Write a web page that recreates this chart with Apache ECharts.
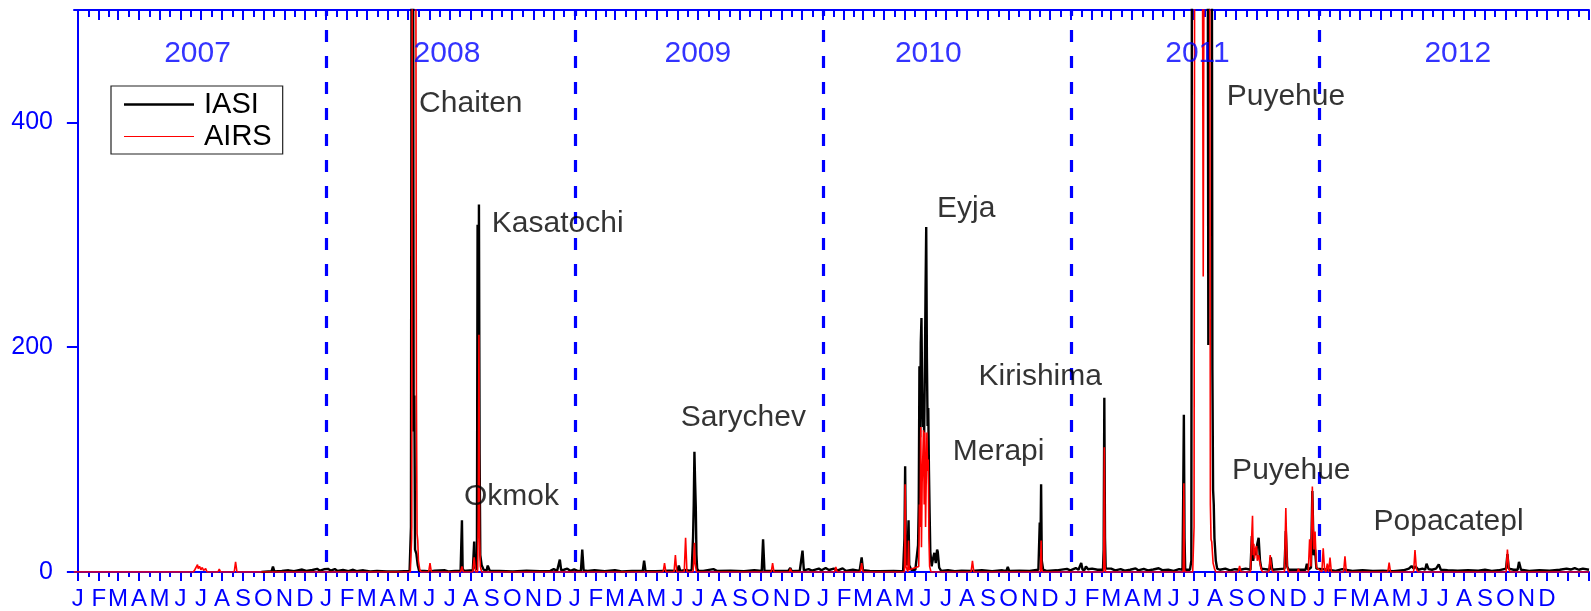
<!DOCTYPE html>
<html>
<head>
<meta charset="utf-8">
<script src="https://cdn.jsdelivr.net/npm/echarts@6/dist/echarts.min.js"></script>
<style>
	* { margin: 0; padding: 0; }
	#chart { width: 1591px; height: 611px; background: #fff; }
</style>
</head>
<body>
<div id="chart"></div>
<script>
	// x = days counted from 1 Jan 2007, y = SO2 amount
	var monthLetters = ['J', 'F', 'M', 'A', 'M', 'J', 'J', 'A', 'S', 'O', 'N', 'D'];
	var years = [2007, 2008, 2009, 2010, 2011, 2012];
	var yLabels = [0, 200, 400];

	// IASI: eruption peaks
	var iasiPeaks = [
		[270, 0],
		[488, 0.8], [490, 40], [491, 650], [492, 330], [493, 650], [494, 125], [495, 157], [496, 20], [497, 18], [498, 16], [500, 6], [502, 1],
		[563, 1], [565, 46], [566, 3], [568, 1],
		[581, 1.5], [583, 27], [584, 4],
		[587, 2], [588, 309], [589, 40], [590, 327], [591, 105], [592, 15], [594, 6], [597, 2],
		[903, 2], [905, 31], [906, 60], [907, 107], [908, 80], [909, 58], [910, 15], [911, 3], [913, 1],
		[1214, 1], [1216, 30], [1217, 94], [1218, 15], [1220, 6], [1222, 46], [1223, 6], [1226, 2], [1232, 2],
		[1236, 24], [1237, 60], [1238, 183], [1239, 120], [1240, 204], [1241, 226], [1242, 160], [1243, 129], [1244, 140], [1245, 124],
		[1246, 180], [1247, 250], [1248, 307], [1249, 190], [1250, 130], [1251, 146], [1252, 90], [1253, 52], [1254, 18], [1256, 5],
		[1258, 12], [1260, 17], [1262, 8], [1264, 20], [1265, 18], [1267, 4], [1270, 1],
		[1413, 2], [1415, 44], [1416, 20], [1417, 78], [1418, 10], [1420, 2],
		[1508, 2], [1509, 20], [1510, 155], [1511, 30], [1512, 3],
		[1625, 2], [1626, 66], [1627, 140], [1628, 30], [1629, 2],
		[1636, 2], [1638, 10], [1639, 650], [1662, 650], [1663, 202], [1664, 650], [1668, 650], [1669, 180], [1670, 73], [1671, 60], [1672, 30], [1674, 10], [1676, 3],
		[1725, 2], [1727, 32], [1729, 10], [1731, 20], [1733, 15], [1735, 25], [1737, 30.5], [1739, 10], [1741, 3],
		[1753, 2], [1755, 13], [1757, 2], [1775, 3], [1777, 36.5], [1779, 5], [1781, 2],
		[1806, 2], [1808, 7.4], [1810, 2], [1814, 4], [1816, 72], [1818, 15], [1820, 20], [1822, 3],
		[2223, 2]
	];

	// IASI: small background values between eruptions
	var iasiNoise = [
		[285, 0.8], [287, 4.8], [289, 0.6], [300, 1], [310, 1.5], [318, 0.8], [330, 2.2], [336, 1], [345, 1.8], [352, 2.8], [356, 1.2], [362, 2.4],
		[368, 2.8], [372, 1.2], [378, 2.6], [382, 1], [390, 1.8], [398, 0.8], [405, 2], [410, 0.8], [420, 1.5], [430, 0.6], [440, 1], [455, 0.6], [470, 0.5], [480, 0.8],
		[510, 1], [518, 0.6], [525, 1.2], [540, 1.5], [545, 0.6], [555, 1],
		[601, 1], [603, 5.7], [606, 1], [620, 1], [640, 0.6], [660, 1.2], [680, 0.8], [695, 1], [700, 2.5], [705, 1], [707, 1], [709, 11], [711, 1.5], [715, 2], [720, 3], [725, 1], [730, 2.4], [735, 1],
		[740, 1], [742, 20], [744, 1.5], [750, 1], [760, 1.5], [775, 0.8], [790, 1.6], [800, 0.6], [815, 1], [831, 1], [833, 10], [835, 1], [850, 0.8], [870, 1.2], [882, 1], [884, 5.7], [886, 1], [895, 1.8], [900, 1],
		[920, 1], [935, 2.5], [940, 1], [960, 1.2], [980, 0.8], [995, 1.5], [1006, 1], [1008, 29], [1010, 1.2], [1030, 1], [1045, 1], [1048, 3.5], [1050, 0.8], [1062, 1.2], [1064, 1], [1066, 19], [1068, 1.5],
		[1075, 2.5], [1080, 1.2], [1090, 3], [1094, 1.5], [1100, 3.5], [1105, 1.8], [1112, 3], [1118, 1.5], [1125, 3.2], [1130, 1], [1140, 2], [1150, 1], [1151, 1], [1153, 13], [1155, 1.5], [1165, 1], [1180, 0.8], [1200, 1], [1210, 0.8],
		[1280, 1.5], [1290, 0.8], [1300, 1.2], [1315, 1], [1330, 1.5], [1345, 0.8], [1360, 1.5], [1366, 1], [1368, 4.5], [1370, 1], [1385, 1.2], [1400, 1],
		[1425, 1], [1440, 1.5], [1455, 2.8], [1460, 1.5], [1468, 3.5], [1472, 2], [1474, 2], [1476, 8], [1478, 2], [1481, 2], [1483, 5], [1486, 2.5], [1492, 3], [1500, 2],
		[1514, 2], [1520, 3], [1526, 1.5], [1534, 2.5], [1540, 1.2], [1548, 2], [1556, 3.2], [1560, 1.5], [1568, 2.8], [1574, 1.5], [1582, 2.2], [1590, 3.3], [1596, 1.5], [1604, 2], [1612, 1], [1620, 2.5],
		[1680, 2], [1688, 3], [1695, 1.5], [1702, 2.5], [1710, 2], [1718, 3],
		[1840, 2], [1850, 1], [1860, 2.5], [1875, 1], [1890, 1.5], [1905, 1], [1920, 1.2], [1935, 0.8], [1950, 1.5], [1958, 3], [1962, 5.3], [1965, 3], [1968, 5], [1972, 2], [1978, 3],
		[1982, 2], [1984, 7.4], [1987, 2.5], [1992, 2], [1998, 3], [2000, 2], [2002, 6.8], [2005, 2], [2015, 1.5], [2030, 1.2], [2045, 1.5], [2060, 1.2], [2070, 2], [2080, 1], [2090, 1.5],
		[2101, 3], [2103, 16], [2105, 3], [2112, 2], [2118, 2], [2120, 9], [2123, 2], [2135, 1], [2150, 1.5], [2165, 1.2], [2180, 2], [2190, 3], [2196, 2.2], [2202, 3.5], [2208, 2], [2214, 3]
	];

	var airsData = [
		[-6, 0], [170, 0], [172, 2], [174, 1], [176, 6.5], [177, 3], [179, 5], [181, 2], [183, 4], [185, 1.5], [188, 3], [190, 0],
		[206, 0], [208, 2.5], [210, 0], [230, 0], [232, 9], [234, 0],
		[489, 0], [491, 30], [492, 650], [497, 650], [498, 160], [499, 34], [500, 28], [501, 10], [503, 2], [505, 0], [516, 0], [518, 8], [520, 0],
		[563, 0], [565, 5], [567, 0], [581, 0], [583, 13], [585, 0],
		[588, 0], [589, 50], [590, 211], [591, 30], [592, 5], [594, 0],
		[861, 0], [863, 8], [865, 0], [877, 0], [879, 15], [881, 0], [892, 0], [894, 30.5], [896, 0],
		[905, 0], [906, 10], [907, 26], [908, 8], [910, 0],
		[1020, 0], [1022, 8], [1024, 0], [1047, 0], [1048, 3], [1050, 0], [1113, 0], [1115, 4.5], [1117, 0], [1151, 0], [1153, 8], [1155, 0],
		[1216, 0], [1217, 78], [1218, 5], [1221, 0], [1222, 28], [1223, 2], [1237, 5], [1238, 60], [1239, 40], [1240, 129], [1241, 22],
		[1242, 80], [1244, 126], [1245, 60], [1246, 124], [1247, 40], [1249, 124], [1250, 90], [1251, 100], [1252, 30], [1253, 5], [1255, 0],
		[1314, 0], [1316, 10], [1318, 0],
		[1416, 0], [1417, 28], [1418, 3], [1419, 0],
		[1509, 0], [1510, 111], [1511, 5], [1512, 0],
		[1626, 0], [1627, 79], [1628, 2], [1629, 0],
		[1640, 0], [1642, 40], [1643, 650], [1654, 650], [1655.5, 263], [1657, 650], [1665, 650], [1666, 60], [1667, 29], [1668, 27], [1670, 8], [1672, 3], [1674, 0],
		[1707, 0], [1709, 5.3], [1711, 0], [1725, 0], [1726, 20], [1728, 50], [1729, 15], [1730, 25], [1731, 12], [1732, 20], [1734, 23], [1735, 10], [1737, 15], [1739, 8], [1741, 2], [1743, 0],
		[1752, 0], [1754, 15], [1756, 3], [1758, 0], [1775, 0], [1777, 57], [1779, 5], [1781, 0], [1794, 0], [1795.5, 3], [1797, 0],
		[1810, 0], [1812, 29], [1814, 5], [1816, 76], [1818, 20], [1820, 36], [1822, 4], [1830, 0], [1832, 21], [1834, 2], [1836, 0], [1838, 7.4], [1840, 0], [1842, 12.8], [1844, 0],
		[1862, 0], [1864, 14], [1866, 0], [1927, 0], [1929, 8.3], [1931, 0], [1965, 0], [1967, 19.6], [1969, 3], [1971, 0],
		[2101, 0], [2103, 20], [2105, 3], [2107, 0], [2223, 0]
	];

	// volcano names and where their text sits [name, day, value]
	var notes = [
		['Chaiten', 502, 417], ['Kasatochi', 609, 310], ['Okmok', 568, 67], ['Sarychev', 887, 137],
		['Eyja', 1264, 323], ['Kirishima', 1325, 174], ['Merapi', 1287, 107],
		['Puyehue', 1690, 423], ['Puyehue', 1698, 90], ['Popacatepl', 1906, 45]
	];
	// year captions [day, value]
	var yearPos = [[176, 461], [543, 461], [912, 461], [1251, 461], [1647, 461], [2030, 461]];

	var BLUE = '#0000ff';
	var FONT = '"Liberation Sans", Arial, sans-serif';

	function dayOf(y, m) {
		return (Date.UTC(y, m, 1) - Date.UTC(2007, 0, 1)) / 86400000;
	}
	var monthStarts = [], midMonths = [], yearStarts = [];
	for (var y = 2007; y <= 2013; y++) {
		for (var m = 0; m < 12; m++) {
			var d = dayOf(y, m);
			if (d > 2223) break;
			monthStarts.push(d);
			midMonths.push((d + dayOf(y, m + 1)) / 2);
			if (m == 0 && y > 2007 && y < 2013) yearStarts.push(d);
		}
	}
	var labelDays = monthStarts.filter(function (d) { return d < dayOf(2013, 0); });

	var iasiData = iasiPeaks.concat(iasiNoise).sort(function (a, b) { return a[0] - b[0]; });

	function xAx(pos, custom, len, inside, showLine, showLabel) {
		return {
			type: 'value', position: pos, min: -5.7, max: 2223,
			splitLine: { show: false },
			axisLine: { show: showLine, onZero: false, lineStyle: { color: BLUE, width: 2 } },
			axisTick: { show: true, inside: inside, length: len, customValues: custom, lineStyle: { color: BLUE, width: 2 } },
			axisLabel: {
				show: showLabel, customValues: labelDays, margin: 15, color: BLUE, fontSize: 24, fontFamily: FONT,
				formatter: function (v) { return monthLetters[new Date(Date.UTC(2007, 0, 1) + v * 86400000).getUTCMonth()]; }
			}
		};
	}

	var chart = echarts.init(document.getElementById('chart'));
	chart.setOption({
		animation: false,
		backgroundColor: '#fff',
		grid: { left: 74, right: 2, top: 10, bottom: 39, containLabel: false },
		legend: {
			data: [
				{ name: 'IASI', icon: 'path://M0,0L70,0L70,2.6L0,2.6Z' },
				{ name: 'AIRS', icon: 'path://M0,0L70,0L70,1.2L0,1.2Z' }
			],
			orient: 'vertical', left: 111, top: 86,
			itemWidth: 70, itemHeight: 14, itemGap: 3,
			padding: [4, 11, 3, 13],
			borderColor: '#222', borderWidth: 1.2,
			textStyle: { fontSize: 29, color: '#000', fontFamily: FONT, padding: [0, 0, 0, 5] }
		},
		xAxis: [
			xAx('bottom', monthStarts, 9, false, true, true),
			xAx('bottom', midMonths, 5, false, false, false),
			xAx('top', monthStarts, 10, true, true, false),
			xAx('top', midMonths, 7, true, false, false)
		],
		yAxis: [{
			type: 'value', min: 0, max: 500, position: 'left',
			splitLine: { show: false },
			axisLine: { show: true, lineStyle: { color: BLUE, width: 2 } },
			axisTick: { length: 10, customValues: yLabels, lineStyle: { color: BLUE, width: 2 } },
			axisLabel: { customValues: yLabels, margin: 21, color: BLUE, fontSize: 25, fontFamily: FONT }
		}, {
			type: 'value', min: 0, max: 500, position: 'right',
			splitLine: { show: false },
			axisLine: { show: true, lineStyle: { color: BLUE, width: 2 } },
			axisTick: { inside: true, length: 11, customValues: yLabels, lineStyle: { color: BLUE, width: 2 } },
			axisLabel: { show: false }
		}],
		series: [{
			name: 'IASI', type: 'line', data: iasiData, symbol: 'none', z: 3,
			color: '#000', lineStyle: { color: '#000', width: 2.4 }
		}, {
			name: 'AIRS', type: 'line', data: airsData, symbol: 'none', z: 4,
			color: '#ff0000', lineStyle: { color: '#ff0000', width: 1.6 }
		}, {
			name: 'years', type: 'line', data: [], silent: true, z: 2,
			markLine: {
				symbol: 'none', silent: true, label: { show: false },
				lineStyle: { color: BLUE, width: 3.2, type: [12, 14], dashOffset: 16 },
				data: yearStarts.map(function (d) { return { xAxis: d }; })
			}
		}, {
			name: 'notes', type: 'scatter', symbolSize: 0, silent: true, z: 5,
			data: notes.map(function (n) { return { name: n[0], value: [n[1], n[2]] }; }),
			label: { show: true, position: 'right', distance: 0, formatter: '{b}', color: '#000', fontSize: 30, fontFamily: FONT }
		}, {
			name: 'yearText', type: 'scatter', symbolSize: 0, silent: true, z: 5,
			data: yearPos.map(function (p, i) { return { name: String(years[i]), value: p }; }),
			label: { show: true, position: 'inside', formatter: '{b}', color: BLUE, fontSize: 30, fontFamily: FONT }
		}]
	});
</script>
</body>
</html>
